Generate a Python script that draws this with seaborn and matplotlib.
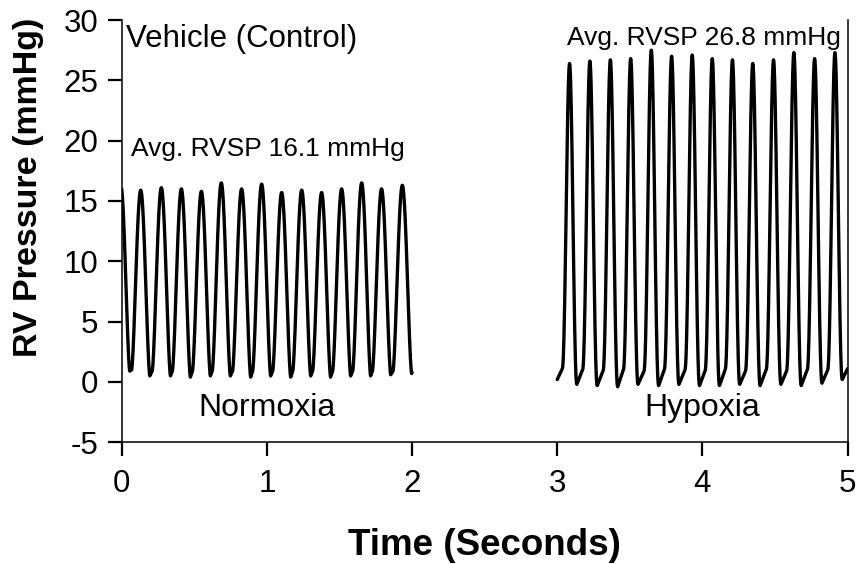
import numpy as np
import pandas as pd
import seaborn as sns
import matplotlib.pyplot as plt

# Values, beat by beat
# Normoxia trace (0-2 s)
norm_peak_t = [-0.006, 0.131, 0.273, 0.411, 0.549, 0.686, 0.826, 0.964,
               1.102, 1.240, 1.377, 1.515, 1.653, 1.790, 1.933]
norm_peak_p = [16.3, 15.9, 16.1, 16.0, 15.8, 16.5, 16.0, 16.4,
               15.7, 15.9, 15.7, 16.0, 16.5, 16.0, 16.3]
norm_min_p = [0.9, 0.5, 0.5, 0.4, 0.5, 0.5, 0.4, 0.5,
              0.4, 0.5, 0.4, 0.5, 0.5, 0.6, 0.7]
norm_shoulder_p = [1.0, 1.0, 0.9, 0.9, 0.9, 0.9, 0.9, 0.9,
                   0.9, 0.9, 0.9, 0.9, 0.9, 0.9, 0.9]
norm_window = (0.0, 2.0)
norm_ends = (None, 0.8)

# Hypoxia trace (3-5 s)
hyp_peak_t = [3.085, 3.225, 3.366, 3.506, 3.648, 3.788, 3.930,
              4.068, 4.207, 4.347, 4.490, 4.630, 4.773, 4.913]
hyp_peak_p = [26.4, 26.6, 26.7, 26.8, 27.5, 27.0, 27.1,
              26.8, 26.7, 26.4, 26.7, 27.3, 26.8, 27.3]
hyp_min_p = [-0.2, -0.3, -0.4, -0.2, -0.3, -0.2, -0.3,
             -0.3, -0.2, -0.3, -0.2, -0.3, -0.1, 0.2]
hyp_shoulder_p = [1.1, 1.0, 0.9, 1.0, 0.9, 1.0, 1.0,
                  0.9, 1.0, 0.9, 1.0, 0.9, 1.0, 1.0]
hyp_window = (3.0, 5.0)
hyp_ends = (0.2, 1.1)

y_ticks = [-5, 0, 5, 10, 15, 20, 25, 30]
x_ticks = [0, 1, 2, 3, 4, 5]


def trace(peak_t, peak_p, min_p, shoulder_p, window, ends, frac, sharp, n=40):
    peak_t = np.asarray(peak_t)
    period = np.gradient(peak_t)
    s = np.linspace(0, 1, n)
    rise = ((1 - np.cos(np.pi * s)) / 2) ** sharp
    ts, ps = [], []
    if ends[0] is not None:
        ts.append(window[0])
        ps.append(ends[0])
    for i in range(len(peak_t)):
        ts += list(np.linspace(peak_t[i] - frac * period[i], peak_t[i], n))
        ps += list(shoulder_p[i] + (peak_p[i] - shoulder_p[i]) * rise)
        ts += list(np.linspace(peak_t[i], peak_t[i] + frac * period[i], n))
        ps += list(min_p[i] + (peak_p[i] - min_p[i]) * rise[::-1])
    ts.append(window[1])
    ps.append(ends[1])
    df = pd.DataFrame({"t": ts, "p": ps})
    return df[(df.t >= window[0]) & (df.t <= window[1])]


norm_df = trace(norm_peak_t, norm_peak_p, norm_min_p, norm_shoulder_p,
                norm_window, norm_ends, frac=0.45, sharp=0.8)
hyp_df = trace(hyp_peak_t, hyp_peak_p, hyp_min_p, hyp_shoulder_p,
               hyp_window, hyp_ends, frac=0.36, sharp=1.1)

sns.set_style("ticks")
plt.rcParams["font.family"] = ["Liberation Sans", "DejaVu Sans"]
plt.rcParams["axes.unicode_minus"] = False
plt.rcParams["text.color"] = "black"

fig = plt.figure(figsize=(8.57, 5.64), dpi=100)
ax = fig.add_axes([0.142, 0.2158, 0.847, 0.7487])

for df in (norm_df, hyp_df):
    sns.lineplot(data=df, x="t", y="p", ax=ax, color="black", linewidth=2.4,
                 estimator=None, sort=False)

ax.set_xlim(0, 5)
ax.set_ylim(-5, 30)
ax.set_xticks(x_ticks)
ax.set_yticks(y_ticks)
ax.tick_params(axis="both", labelsize=22.5, length=10, width=1.6,
               color="black", labelcolor="black", direction="out",
               bottom=True, left=True, top=False, right=False)
ax.tick_params(axis="y", pad=7)
ax.tick_params(axis="x", pad=9)

for side in ("left", "bottom", "right"):
    ax.spines[side].set_visible(True)
    ax.spines[side].set_color("black")
    ax.spines[side].set_linewidth(1.1)
ax.spines["top"].set_visible(False)

ax.set_xlabel("Time (Seconds)", fontsize=26.5, fontweight="bold", color="black")
ax.set_ylabel("RV Pressure (mmHg)", fontsize=24.5, fontweight="bold", color="black")
ax.xaxis.label.set_va("baseline")
ax.xaxis.set_label_coords(0.5, -0.267)
ax.yaxis.label.set_va("center")
ax.yaxis.set_label_coords(-0.128, 0.605)

ax.text(0.03, 27.75, "Vehicle (Control)", fontsize=22.5, va="baseline", ha="left")
ax.text(0.062, 18.7, "Avg. RVSP 16.1 mmHg", fontsize=19, va="baseline", ha="left")
ax.text(3.07, 27.95, "Avg. RVSP 26.8 mmHg", fontsize=19, va="baseline", ha="left")
ax.text(1.0, -2.85, "Normoxia", fontsize=23, va="baseline", ha="center")
ax.text(4.0, -2.85, "Hypoxia", fontsize=23, va="baseline", ha="center")

fig.savefig("out.png", dpi=100)
